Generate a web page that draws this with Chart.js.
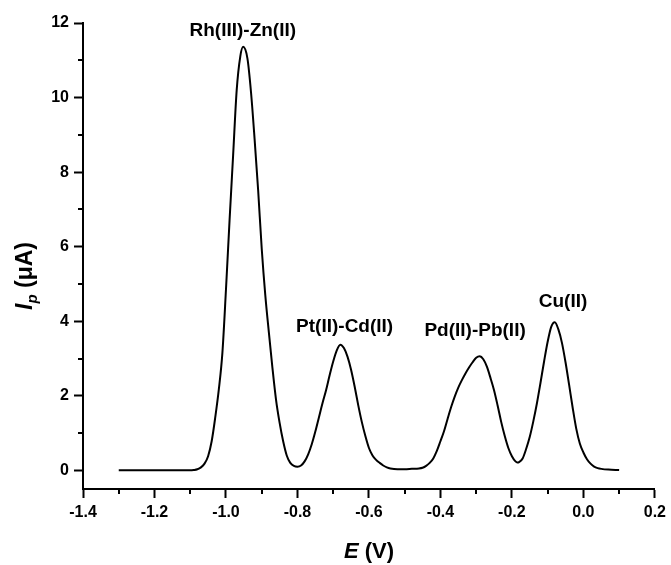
<!DOCTYPE html>
<html>
<head>
<meta charset="utf-8">
<script src="https://cdn.jsdelivr.net/npm/chart.js@4.4.0/dist/chart.umd.min.js"></script>
<style>
  html, body { margin: 0; padding: 0; background: #fff; }
  #wrap { width: 671px; height: 565px; }
</style>
</head>
<body>
<div id="wrap"><canvas id="chart" width="671" height="565"></canvas></div>
<script>
// E (V) and Ip (uA)
const potential = [
  -1.30, -1.25, -1.20, -1.15, -1.10, -1.09, -1.08, -1.07, -1.06, -1.05,
  -1.04, -1.03, -1.02, -1.01, -1.00, -0.99, -0.98, -0.97, -0.96, -0.952,
  -0.94, -0.93, -0.92, -0.91, -0.90, -0.89, -0.88, -0.87, -0.86, -0.85,
  -0.84, -0.83, -0.82, -0.81, -0.80, -0.79, -0.78, -0.77, -0.76, -0.75,
  -0.74, -0.73, -0.72, -0.71, -0.70, -0.69, -0.68, -0.67, -0.66, -0.65,
  -0.64, -0.63, -0.62, -0.61, -0.60, -0.59, -0.58, -0.57, -0.56, -0.55,
  -0.54, -0.52, -0.50, -0.48, -0.46, -0.45, -0.44, -0.43, -0.42, -0.41,
  -0.40, -0.39, -0.38, -0.37, -0.36, -0.35, -0.34, -0.33, -0.32, -0.31,
  -0.30, -0.29, -0.28, -0.27, -0.26, -0.25, -0.24, -0.23, -0.22, -0.21,
  -0.20, -0.19, -0.185, -0.18, -0.17, -0.16, -0.15, -0.14, -0.13, -0.12,
  -0.11, -0.10, -0.09, -0.08, -0.07, -0.06, -0.05, -0.04, -0.03, -0.02,
  -0.01, 0.00, 0.01, 0.02, 0.03, 0.04, 0.05, 0.07, 0.10
];
const current = [
  0, 0, 0, 0, 0, 0.01, 0.03, 0.08, 0.18, 0.38,
  0.78, 1.42, 2.17, 3.15, 4.85, 6.70, 8.45, 10.2, 11.1, 11.36,
  11.05, 10.15, 8.90, 7.52, 5.95, 4.70, 3.70, 2.75, 1.90, 1.28,
  0.78, 0.40, 0.20, 0.12, 0.10, 0.13, 0.24, 0.43, 0.70, 1.04,
  1.42, 1.80, 2.15, 2.55, 2.92, 3.22, 3.37, 3.28, 3.05, 2.70,
  2.25, 1.75, 1.30, 0.92, 0.60, 0.40, 0.28, 0.20, 0.13, 0.08,
  0.05, 0.03, 0.03, 0.04, 0.05, 0.07, 0.12, 0.20, 0.32, 0.52,
  0.78, 1.05, 1.38, 1.70, 1.98, 2.22, 2.42, 2.60, 2.76, 2.90,
  3.02, 3.06, 2.98, 2.78, 2.48, 2.15, 1.74, 1.30, 0.92, 0.60,
  0.38, 0.24, 0.21, 0.22, 0.32, 0.58, 0.90, 1.32, 1.80, 2.35,
  2.92, 3.45, 3.85, 3.97, 3.78, 3.42, 2.90, 2.30, 1.68, 1.12,
  0.72, 0.48, 0.30, 0.18, 0.10, 0.06, 0.04, 0.02, 0.01
];

const xMajorTicks = [-1.4, -1.2, -1.0, -0.8, -0.6, -0.4, -0.2, 0.0, 0.2];
const xMinorTicks = [-1.3, -1.1, -0.9, -0.7, -0.5, -0.3, -0.1, 0.1];
const yMajorTicks = [0, 2, 4, 6, 8, 10, 12];
const yMinorTicks = [1, 3, 5, 7, 9, 11];

const peakLabels = ['Rh(III)-Zn(II)', 'Pt(II)-Cd(II)', 'Pd(II)-Pb(II)', 'Cu(II)'];
const peakLabelE = [-0.953, -0.668, -0.303, -0.057];
const peakLabelI = [11.8, 3.85, 3.75, 4.52];

const FONT = '"Liberation Sans", Arial, Helvetica, sans-serif';

function drawRuns(ctx, runs, cx, cy) {
    let total = 0;
    runs.forEach(r => {
        ctx.font = r.font;
        r.w = ctx.measureText(r.text).width;
        total += r.w;
    });
    let xx = cx - total / 2;
    ctx.textAlign = 'left';
    ctx.textBaseline = 'alphabetic';
    runs.forEach(r => {
        ctx.font = r.font;
        ctx.fillText(r.text, xx, cy + (r.dy || 0));
        xx += r.w;
    });
}

const decorPlugin = {
    id: 'decor',
    afterDraw(chart) {
        const { ctx, chartArea } = chart;
        const xs = chart.scales.x;
        const ys = chart.scales.y;
        ctx.save();

        // minor ticks
        ctx.strokeStyle = '#000';
        ctx.lineWidth = 2;
        ctx.beginPath();
        xMinorTicks.forEach(v => {
            const px = Math.round(xs.getPixelForValue(v));
            ctx.moveTo(px, chartArea.bottom);
            ctx.lineTo(px, chartArea.bottom + 5);
        });
        yMinorTicks.forEach(v => {
            const py = Math.round(ys.getPixelForValue(v));
            ctx.moveTo(chartArea.left, py);
            ctx.lineTo(chartArea.left - 5, py);
        });
        ctx.stroke();

        // peak labels
        ctx.fillStyle = '#000';
        ctx.font = 'bold 19px ' + FONT;
        ctx.textAlign = 'center';
        ctx.textBaseline = 'middle';
        peakLabels.forEach((t, i) => {
            ctx.fillText(t, xs.getPixelForValue(peakLabelE[i]), ys.getPixelForValue(peakLabelI[i]));
        });

        // x title
        drawRuns(ctx, [
            { text: 'E', font: 'italic bold 22px ' + FONT },
            { text: ' (V)', font: 'bold 22px ' + FONT }
        ], (chartArea.left + chartArea.right) / 2, 558);

        // y title
        ctx.translate(32, 276);
        ctx.rotate(-Math.PI / 2);
        drawRuns(ctx, [
            { text: 'I', font: 'italic bold 23px ' + FONT },
            { text: 'p', font: 'italic bold 15px ' + FONT, dy: 5 },
            { text: ' (\u03BCA)', font: 'bold 23px ' + FONT }
        ], 0, 0);

        ctx.restore();
    }
};

new Chart(document.getElementById('chart'), {
    type: 'line',
    data: {
        datasets: [{
            data: potential.map((e, i) => ({ x: e, y: current[i] })),
            borderColor: '#000',
            borderWidth: 2,
            pointRadius: 0,
            fill: false,
            cubicInterpolationMode: 'monotone'
        }]
    },
    options: {
        responsive: false,
        animation: false,
        devicePixelRatio: 1,
        layout: { padding: { left: 0, top: 23, right: 16, bottom: 0 } },
        plugins: { legend: { display: false }, tooltip: { enabled: false } },
        scales: {
            x: {
                type: 'linear',
                min: -1.4,
                max: 0.2,
                afterBuildTicks: s => { s.ticks = xMajorTicks.map(v => ({ value: v })); },
                afterFit: s => { s.height = 76; },
                grid: { drawOnChartArea: false, drawTicks: true, tickLength: 9, tickWidth: 2, tickColor: '#000' },
                border: { display: true, color: '#000', width: 2 },
                ticks: {
                    color: '#000',
                    font: { family: FONT, size: 16, weight: 'bold' },
                    padding: 5,
                    maxRotation: 0,
                    autoSkip: false,
                    callback: v => (Math.abs(v) < 1e-9 ? 0 : v).toFixed(1)
                }
            },
            y: {
                type: 'linear',
                min: -0.5,
                max: 12,
                afterBuildTicks: s => { s.ticks = yMajorTicks.map(v => ({ value: v })); },
                afterFit: s => { s.width = 83; },
                grid: { drawOnChartArea: false, drawTicks: true, tickLength: 9, tickWidth: 2, tickColor: '#000' },
                border: { display: true, color: '#000', width: 2 },
                ticks: {
                    color: '#000',
                    font: { family: FONT, size: 16, weight: 'bold' },
                    padding: 5,
                    autoSkip: false,
                    callback: v => String(v)
                }
            }
        }
    },
    plugins: [decorPlugin]
});
</script>
</body>
</html>
